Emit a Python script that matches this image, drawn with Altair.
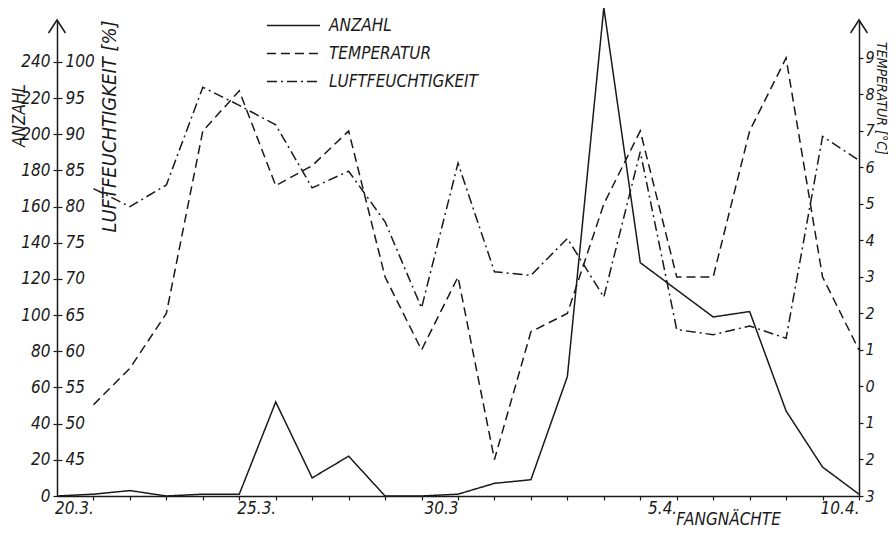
import altair as alt
import pandas as pd

# ---------------- data ----------------
naechte = ["19.3.", "20.3.", "21.3.", "22.3.", "23.3.", "24.3.", "25.3.", "26.3.",
           "27.3.", "28.3.", "29.3.", "30.3.", "31.3.", "1.4.", "2.4.", "3.4.",
           "4.4.", "5.4.", "6.4.", "7.4.", "8.4.", "9.4.", "10.4."]
anzahl = [0, 1, 3, 0, 1, 1, 52, 10, 22, 0, 0, 1, 7, 9, 66, 270, 129, 114, 99, 102, 47, 16, 1]
temperatur = [None, -0.5, 0.5, 2, 7, 8.1, 5.5, 6.05, 7, 3, 1, 3, -2, 1.5, 2, 5, 7, 3, 3, 7, 9, 3, 1]
luftfeuchtigkeit = [None, 82.5, 80, 83, 96.5, 94, 91.3, 82.6, 84.9, 77.9, 66, 86, 71, 70.5,
                    75.6, 67.5, 87.6, 63, 62.3, 63.5, 61.8, 89.7, 86.4]

serien = ["ANZAHL", "TEMPERATUR", "LUFTFEUCHTIGKEIT"]
x_label_tage = [1, 6, 11, 17, 22]
x_label_texte = ["20.3.", "25.3.", "30.3", "5.4.", "10.4."]
anzahl_ticks = list(range(0, 241, 20))
feuchte_ticks = list(range(45, 101, 5))
temp_ticks = list(range(-3, 10))

df = pd.DataFrame({
    "tag": list(range(len(naechte))),
    "nacht": naechte,
    "ANZAHL": anzahl,
    "TEMPERATUR": temperatur,
    "LUFTFEUCHTIGKEIT": luftfeuchtigkeit,
})

# ---------------- styling ----------------
FONT = "DejaVu Sans Condensed, DejaVu Sans, sans-serif"
INK = "#1a1a1a"
W, H = 802, 476
ANZ_MAX = 263.2
FEU_MIN, FEU_MAX = 40, 40 + ANZ_MAX / 4
T_MIN, T_MAX = -3, 10.04

dash_scale = alt.Scale(domain=serien, range=[[1, 0], [9, 5], [10, 4, 2, 4]])
# long horizontal legend sample drawn with a small nominal symbol size
legend = alt.Legend(
    title=None, orient="none", legendX=228, legendY=-3, direction="vertical",
    symbolType="M -4 0 L 4 0", symbolSize=176, symbolStrokeWidth=1.4,
    symbolStrokeColor=INK, symbolFillColor="transparent",
    labelFont=FONT, labelFontSize=17,
    labelFontStyle="italic", labelColor=INK, labelOffset=27, rowPadding=10,
    padding=0,
)

label_expr = " : ".join(
    f"datum.value == {t} ? '{s}'" for t, s in zip(x_label_tage, x_label_texte)
) + " : ''"

x_enc = alt.X(
    "tag:Q",
    scale=alt.Scale(domain=[0, len(naechte) - 1], nice=False, zero=False),
    axis=alt.Axis(
        values=list(range(1, len(naechte))), labelExpr=label_expr, grid=False,
        tickSize=4, tickWidth=1.2, tickColor=INK, domainColor=INK, domainWidth=1.5,
        labelAlign="right", labelBaseline="top", labelPadding=0,
        labelFont=FONT, labelFontSize=17, labelFontStyle="italic", labelColor=INK,
        labelOverlap=False, labelBound=False, labelFlush=False,
        title="FANGNÄCHTE", titleFont=FONT, titleFontSize=17,
        titleFontStyle="italic", titleFontWeight="normal", titleColor=INK,
        titleX=671, titleY=23, titleAlign="center", titleBaseline="middle",
    ),
)

common_axis = dict(
    grid=False, tickColor=INK, tickWidth=1.2, domainColor=INK, domainWidth=1.5,
    labelFont=FONT, labelFontStyle="italic", labelColor=INK,
    titleFont=FONT, titleFontStyle="italic",
    titleFontWeight="normal", titleColor=INK, labelOverlap=False,
    titleAlign="center", titleBaseline="middle", labelFlush=False,
)

dash_enc = alt.StrokeDash("serie:N", scale=dash_scale, legend=legend)

base = alt.Chart(df)

anz_line = base.transform_calculate(serie="'ANZAHL'").mark_line(
    color=INK, strokeWidth=1.5
).encode(
    x=x_enc,
    y=alt.Y("ANZAHL:Q", scale=alt.Scale(domain=[0, ANZ_MAX], nice=False),
            axis=alt.Axis(orient="left", values=anzahl_ticks, tickSize=4,
                          labelPadding=3, labelFontSize=17,
                          title="ANZAHL", titleX=-38, titleY=95,
                          titleFontSize=17, titleAngle=270, **common_axis)),
    strokeDash=dash_enc,
)

temp_line = base.transform_calculate(serie="'TEMPERATUR'").mark_line(
    color=INK, strokeWidth=1.5
).encode(
    x=x_enc,
    y=alt.Y("TEMPERATUR:Q", scale=alt.Scale(domain=[T_MIN, T_MAX], nice=False, zero=False),
            axis=alt.Axis(orient="right", values=temp_ticks, tickSize=4,
                          labelPadding=2, labelFontSize=16,
                          labelExpr="'' + abs(datum.value)",
                          title="TEMPERATUR [°C]", titleX=21, titleY=78,
                          titleFontSize=14, titleAngle=90, **common_axis)),
    strokeDash=dash_enc,
)

feu_line = base.transform_calculate(serie="'LUFTFEUCHTIGKEIT'").mark_line(
    color=INK, strokeWidth=1.5
).encode(
    x=x_enc,
    y=alt.Y("LUFTFEUCHTIGKEIT:Q", scale=alt.Scale(domain=[FEU_MIN, FEU_MAX], nice=False, zero=False),
            axis=alt.Axis(orient="right", offset=-W, values=feuchte_ticks, tickSize=5,
                          domain=False, labelPadding=3, labelFontSize=17,
                          title="LUFTFEUCHTIGKEIT [%]", titleX=52, titleY=106,
                          titleFontSize=20, titleAngle=270, **common_axis)),
    strokeDash=dash_enc,
)

pfeil_df = pd.DataFrame({"tag": [0, len(naechte) - 1]})
pfeile = alt.Chart(pfeil_df).mark_point(
    shape="M -0.65 1 L 0 0 L 0.65 1", filled=False, stroke=INK, strokeWidth=1.5,
    size=676, opacity=1,
).encode(
    x=x_enc,
    y=alt.Y(datum=ANZ_MAX, scale=alt.Scale(domain=[0, ANZ_MAX], nice=False), axis=None),
)

chart = alt.layer(anz_line, temp_line, feu_line, pfeile).resolve_scale(
    y="independent"
).properties(
    width=W, height=H,
    autosize=alt.AutoSizeParams(type="none"),
    padding={"left": 49, "top": 12, "right": 29, "bottom": 31},
    background="white",
).configure_view(stroke=None)

chart.save("out.html", embed_options={"renderer": "svg", "actions": False})
